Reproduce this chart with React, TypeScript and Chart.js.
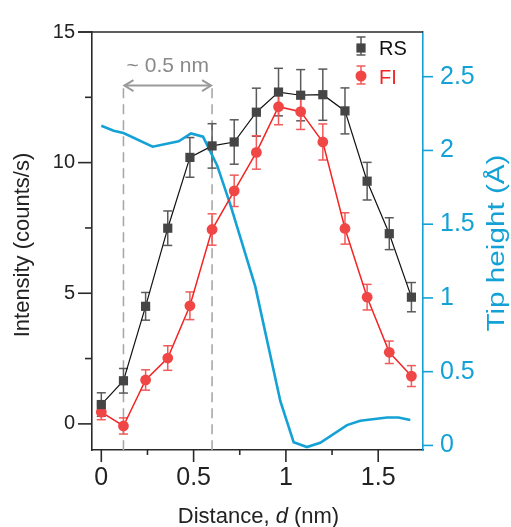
import { useEffect, useRef } from 'react';
import { Chart, registerables } from 'chart.js';

Chart.register(...registerables);

// ---- data ----
const distance = [0, 0.12, 0.24, 0.36, 0.48, 0.6, 0.72, 0.84, 0.96, 1.08, 1.2, 1.32, 1.44, 1.56, 1.68];
const rsValues = [0.74, 1.65, 4.5, 7.49, 10.2, 10.64, 10.79, 11.93, 12.7, 12.58, 12.6, 11.98, 9.29, 7.28, 4.85];
const rsErrors = [0.45, 0.47, 0.53, 0.66, 0.76, 0.85, 0.85, 0.92, 0.91, 0.98, 0.98, 0.88, 0.72, 0.61, 0.56];
const fiValues = [0.45, -0.08, 1.68, 2.52, 4.52, 7.44, 8.92, 10.39, 12.14, 11.95, 10.79, 7.48, 4.85, 2.74, 1.83];
const fiErrors = [0.29, 0.31, 0.39, 0.47, 0.53, 0.6, 0.6, 0.64, 0.69, 0.68, 0.69, 0.6, 0.49, 0.43, 0.4];
const tipDistance = [0, 0.067, 0.12, 0.278, 0.419, 0.486, 0.551, 0.627, 0.699, 0.834, 0.97, 1.042, 1.114, 1.186, 1.331, 1.403, 1.548, 1.61, 1.674];
const tipHeight = [2.167, 2.133, 2.118, 2.025, 2.062, 2.115, 2.093, 1.9, 1.633, 1.078, 0.3, 0.022, -0.011, 0.018, 0.138, 0.167, 0.189, 0.189, 0.173];

const leftTicks = [0, 5, 10, 15];
const leftMinorTicks = [2.5, 7.5, 12.5];
const bottomTicks = [0, 0.5, 1, 1.5];
const bottomMinorTicks = [0.25, 0.75, 1.25];
const rightTicks = [0, 0.5, 1, 1.5, 2, 2.5];

const markerLines = [0.12, 0.6];
const markerLineTop = 12.85;
const arrowLevel = 12.95;
const arrowLabel = '~ 0.5 nm';
const seriesNames = ['RS', 'FI'];

const FONT = "'Liberation Sans', Arial, Helvetica, sans-serif";
const CYAN = '#14a2d6';
const AXIS = '#2a2a2a';
const RS_MARK = '#454545';
const RS_ERR = '#5a5a5a';
const FI_MARK = '#f04646';
const FI_ERR = '#f05a5a';
const FI_LINE = '#f42424';

function line(ctx: CanvasRenderingContext2D, x1: number, y1: number, x2: number, y2: number) {
  ctx.beginPath();
  ctx.moveTo(x1, y1);
  ctx.lineTo(x2, y2);
  ctx.stroke();
}

const backgroundPlugin = {
  id: 'annotationsAndErrors',
  beforeDatasetsDraw(chart: any) {
    const { ctx, chartArea, scales } = chart;
    const x = scales.x, y = scales.y;
    ctx.save();
    // dashed marker lines
    ctx.strokeStyle = '#a8a8a8';
    ctx.lineWidth = 1.6;
    ctx.setLineDash([10, 6]);
    markerLines.forEach((v) => {
      const px = x.getPixelForValue(v);
      line(ctx, px, y.getPixelForValue(markerLineTop), px, chartArea.bottom);
    });
    ctx.setLineDash([]);
    // double arrow
    const ax1 = x.getPixelForValue(markerLines[0]);
    const ax2 = x.getPixelForValue(markerLines[1]);
    const ay = y.getPixelForValue(arrowLevel);
    ctx.strokeStyle = '#9a9a9a';
    ctx.lineWidth = 2;
    line(ctx, ax1 + 1, ay, ax2 - 1, ay);
    ctx.beginPath();
    ctx.moveTo(ax1 + 10, ay - 5.5);
    ctx.lineTo(ax1 + 1, ay);
    ctx.lineTo(ax1 + 10, ay + 5.5);
    ctx.moveTo(ax2 - 10, ay - 5.5);
    ctx.lineTo(ax2 - 1, ay);
    ctx.lineTo(ax2 - 10, ay + 5.5);
    ctx.stroke();
    ctx.fillStyle = '#8a8a8a';
    ctx.font = `21px ${FONT}`;
    ctx.textAlign = 'center';
    ctx.textBaseline = 'alphabetic';
    ctx.fillText(arrowLabel, (ax1 + ax2) / 2, ay - 14);

    // error bars
    const sets = [
      { idx: 0, vals: rsValues, errs: rsErrors, color: RS_ERR },
      { idx: 1, vals: fiValues, errs: fiErrors, color: FI_ERR },
    ];
    ctx.lineWidth = 1.5;
    sets.forEach((s) => {
      const meta = chart.getDatasetMeta(s.idx);
      ctx.strokeStyle = s.color;
      meta.data.forEach((pt: any, i: number) => {
        const yt = y.getPixelForValue(s.vals[i] + s.errs[i]);
        const yb = y.getPixelForValue(s.vals[i] - s.errs[i]);
        line(ctx, pt.x, yt, pt.x, yb);
        line(ctx, pt.x - 4.5, yt, pt.x + 4.5, yt);
        line(ctx, pt.x - 4.5, yb, pt.x + 4.5, yb);
      });
    });
    ctx.restore();
  },
  afterDraw(chart: any) {
    const { ctx, chartArea, scales } = chart;
    const { left, right, top, bottom } = chartArea;
    const x = scales.x, y = scales.y, y2 = scales.y2;
    ctx.save();
    ctx.lineWidth = 1.6;
    ctx.strokeStyle = AXIS;
    line(ctx, left - 14, top, right, top);
    leftTicks.forEach((v) => {
      const py = y.getPixelForValue(v);
      line(ctx, left - 14, py, left, py);
    });
    leftMinorTicks.forEach((v) => {
      const py = y.getPixelForValue(v);
      line(ctx, left - 7, py, left, py);
    });
    bottomTicks.forEach((v) => {
      const px = x.getPixelForValue(v);
      line(ctx, px, bottom, px, bottom + 12);
    });
    bottomMinorTicks.forEach((v) => {
      const px = x.getPixelForValue(v);
      line(ctx, px, bottom, px, bottom + 5);
    });
    ctx.strokeStyle = CYAN;
    rightTicks.forEach((v) => {
      const py = y2.getPixelForValue(v);
      line(ctx, right, py, right + 10, py);
    });

    // legend
    const lx = right - 62;
    const rows = [
      { cy: 47, color: RS_MARK, err: RS_ERR, text: '#111', shape: 'rect' },
      { cy: 76, color: FI_MARK, err: FI_ERR, text: FI_LINE, shape: 'circle' },
    ];
    rows.forEach((r, i) => {
      ctx.strokeStyle = r.err;
      ctx.lineWidth = 1.5;
      line(ctx, lx, r.cy - 10, lx, r.cy + 8);
      line(ctx, lx - 4.5, r.cy - 10, lx + 4.5, r.cy - 10);
      line(ctx, lx - 4.5, r.cy + 8, lx + 4.5, r.cy + 8);
      ctx.fillStyle = r.color;
      if (r.shape === 'rect') {
        ctx.fillRect(lx - 4.6, r.cy - 3.6, 9.2, 9.2);
      } else {
        ctx.beginPath();
        ctx.arc(lx, r.cy, 5.5, 0, Math.PI * 2);
        ctx.fill();
      }
      ctx.fillStyle = r.text;
      ctx.font = `20px ${FONT}`;
      ctx.textAlign = 'left';
      ctx.textBaseline = 'alphabetic';
      ctx.fillText(seriesNames[i], lx + 18, r.cy + 7.5);
    });

    // axis titles
    ctx.fillStyle = '#222';
    ctx.font = `22px ${FONT}`;
    ctx.textAlign = 'center';
    ctx.textBaseline = 'alphabetic';
    ctx.save();
    ctx.translate(28.5, (top + bottom) / 2 + 4);
    ctx.rotate(-Math.PI / 2);
    ctx.fillText('Intensity (counts/s)', 0, 0);
    ctx.restore();

    ctx.save();
    ctx.fillStyle = CYAN;
    ctx.font = `23px ${FONT}`;
    ctx.translate(503.5, (top + bottom) / 2 + 2);
    ctx.rotate(-Math.PI / 2);
    ctx.scale(1.29, 1);
    ctx.fillText('Tip height (\u00C5)', 0, 0);
    ctx.restore();

    // x title with italic d
    const p1 = 'Distance, ';
    const p2 = 'd';
    const p3 = ' (nm)';
    ctx.font = `22px ${FONT}`;
    const w1 = ctx.measureText(p1).width;
    const w3 = ctx.measureText(p3).width;
    ctx.font = `italic 22px ${FONT}`;
    const w2 = ctx.measureText(p2).width;
    const total = w1 + w2 + w3;
    let sx = (left + right) / 2 + 1 - total / 2;
    const by = 523;
    ctx.textAlign = 'left';
    ctx.font = `22px ${FONT}`;
    ctx.fillText(p1, sx, by);
    sx += w1;
    ctx.font = `italic 22px ${FONT}`;
    ctx.fillText(p2, sx, by);
    sx += w2;
    ctx.font = `22px ${FONT}`;
    ctx.fillText(p3, sx, by);
    ctx.restore();
  },
};

export default function App() {
  const ref = useRef<HTMLCanvasElement | null>(null);
  useEffect(() => {
    if (!ref.current) return;
    const chart = new Chart(ref.current, {
      type: 'line',
      data: {
        datasets: [
          {
            label: seriesNames[0],
            data: distance.map((d, i) => ({ x: d, y: rsValues[i] })),
            borderColor: '#111111',
            borderWidth: 1.2,
            pointStyle: 'rect',
            pointRadius: 6.5,
            pointBackgroundColor: RS_MARK,
            pointBorderColor: RS_MARK,
            pointBorderWidth: 0,
            yAxisID: 'y',
            order: 1,
            tension: 0,
          },
          {
            label: seriesNames[1],
            data: distance.map((d, i) => ({ x: d, y: fiValues[i] })),
            borderColor: FI_LINE,
            borderWidth: 1.5,
            pointStyle: 'circle',
            pointRadius: 5.4,
            pointBackgroundColor: FI_MARK,
            pointBorderColor: FI_MARK,
            pointBorderWidth: 0,
            yAxisID: 'y',
            order: 2,
            tension: 0,
          },
          {
            label: 'Tip height',
            data: tipDistance.map((d, i) => ({ x: d, y: tipHeight[i] })),
            borderColor: CYAN,
            borderWidth: 2.6,
            pointRadius: 0,
            yAxisID: 'y2',
            order: 3,
            tension: 0,
          },
        ],
      },
      options: {
        animation: false,
        responsive: false,
        devicePixelRatio: 1,
        layout: { padding: { top: 24, left: 0, right: 0, bottom: 0 } },
        plugins: { legend: { display: false }, tooltip: { enabled: false } },
        scales: {
          x: {
            type: 'linear',
            position: 'bottom',
            min: -0.0504,
            max: 1.7427,
            afterBuildTicks: (s: any) => { s.ticks = bottomTicks.map((v) => ({ value: v })); },
            afterFit: (s: any) => { s.height = 77; },
            grid: { display: false, drawTicks: false },
            border: { display: true, color: AXIS, width: 1.6 },
            ticks: {
              padding: 13,
              color: '#222',
              maxRotation: 0,
              autoSkip: false,
              font: { family: FONT, size: 25 },
              callback: (v: any) => String(v),
            },
          },
          y: {
            type: 'linear',
            position: 'left',
            min: -1,
            max: 15,
            afterBuildTicks: (s: any) => { s.ticks = leftTicks.map((v) => ({ value: v })); },
            afterFit: (s: any) => { s.width = 92; },
            grid: { display: false, drawTicks: false },
            border: { display: true, color: AXIS, width: 1.6 },
            ticks: {
              padding: 17,
              color: '#222',
              font: { family: FONT, size: 20 },
              callback: (v: any) => String(v),
            },
          },
          y2: {
            type: 'linear',
            position: 'right',
            min: -0.031,
            max: 2.803,
            afterBuildTicks: (s: any) => { s.ticks = rightTicks.map((v) => ({ value: v })); },
            afterFit: (s: any) => { s.width = 88; },
            grid: { display: false, drawTicks: false },
            border: { display: true, color: CYAN, width: 1.6 },
            ticks: {
              padding: 17,
              color: CYAN,
              font: { family: FONT, size: 25 },
              callback: (v: any) => String(v),
            },
          },
        },
      },
      plugins: [backgroundPlugin],
    } as any);
    return () => chart.destroy();
  }, []);
  return (
    <div style={{ position: 'fixed', left: 0, top: 0, width: 511, height: 527, background: '#fff' }}>
      <canvas ref={ref} width={511} height={527} style={{ display: 'block' }} />
    </div>
  );
}
